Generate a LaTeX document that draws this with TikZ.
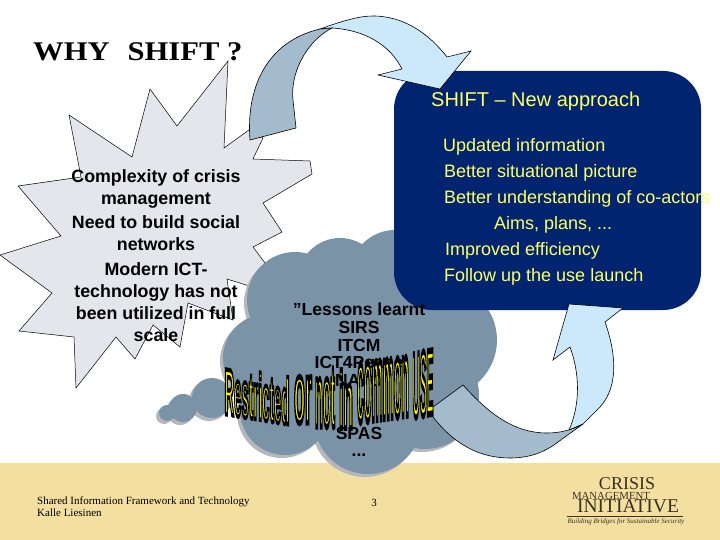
\documentclass[tikz,border=0pt]{standalone}
\usepackage{fontspec}
\setmainfont{Liberation Sans}
\newfontfamily\serifface{Liberation Serif}
\usetikzlibrary{positioning}
\definecolor{navybox}{HTML}{00246F}
\definecolor{boxtext}{HTML}{FFFF66}
\definecolor{cloudblue}{HTML}{7A93A7}
\definecolor{cloudshadow}{HTML}{B5B7BC}
\definecolor{footerband}{HTML}{F3DF9F}
\definecolor{stargrey}{HTML}{E4E6EB}
\definecolor{arrowdark}{HTML}{A3BBCC}
\definecolor{arrowlight}{HTML}{CCE9FC}
\definecolor{logoink}{HTML}{3A3020}
\tikzset{
  outlined/.style={draw=black, line width=0.6pt, line join=miter},
  boxline/.style={text=boxtext, anchor=west, inner sep=0pt, font=\fontsize{18}{20}\selectfont},
  logotext/.style={text=logoink, inner sep=0pt},
}
% filled, black-edged warped lettering
\newcommand{\warpword}[3]{\resizebox{#1pt}{#2pt}{\color{yellow}\special{pdf:code 0 0 0 RG 2 Tr 0.7 w}\textbf{#3}}}
\begin{document}
\begin{tikzpicture}[x=1pt,y=-1pt]
\useasboundingbox (0,0) rectangle (720,540);

% Footer band
\fill[footerband] (0,463) rectangle (720,540);

% Burst on the left
\draw[outlined, line width=0.5pt, fill=stargrey] (69,115) -- (132,157) -- (150,89) -- (177,126) -- (228,61) -- (224,148)
  -- (249,130) -- (263,138) -- (253,159) -- (310,161) -- (312,174) -- (263,203) -- (282,232) -- (253,247) -- (265,263)
  -- (262,290) -- (227,279) -- (233,320) -- (188,303) -- (180,347) -- (153,325) -- (135,359) -- (116,337) -- (76,388)
  -- (74,337) -- (19,331) -- (52,293) -- (0,255) -- (61,236) -- (18,186) -- (81,177) -- cycle;

% Cloud, shadow first
\foreach \cx/\cy/\cr in {295/300/48, 340/280/42, 395/275/45, 440/340/57, 425/395/54, 267/358/44, 285/410/45,
    368/420/54, 350/350/85, 212/398/20, 183/408/14, 167/413/8}
  \fill[cloudshadow] (\cx-3,\cy+3) circle (\cr pt);
\foreach \cx/\cy/\cr in {295/300/48, 340/280/42, 395/275/45, 440/340/57, 425/395/54, 267/358/44, 285/410/45,
    368/420/54, 350/350/85, 212/398/20, 183/408/14, 167/413/8}
  \fill[cloudblue] (\cx,\cy) circle (\cr pt);

% Blue box
\fill[navybox, rounded corners=38pt] (394,71) rectangle (701,310);

% Upper arrow
\draw[outlined, fill=arrowlight] (320,29) .. controls (345,20) and (360,16) .. (373,16)
  .. controls (405,16) and (430,35) .. (447,57) -- (471,51) -- (440,89) -- (378,75) -- (402,69)
  .. controls (390,45) and (365,30) .. (332,28) -- cycle;
\draw[outlined, fill=arrowdark] (250,140) .. controls (246,90) and (265,42) .. (320,29) -- (332,28)
  .. controls (305,42) and (290,75) .. (293,100) -- (296,128) -- cycle;

% Lower arrow
\draw[outlined, fill=arrowlight] (569,430) .. controls (578,410) and (582,380) .. (570,347) -- (553,360) -- (569,304)
  -- (623,308) -- (605,322) .. controls (615,350) and (620,385) .. (600,407) -- (583,424) -- cycle;
\draw[outlined, fill=arrowdark] (463,385) .. controls (490,415) and (515,433) .. (547,433)
  .. controls (560,433) and (572,430) .. (583,424) -- (558,442) .. controls (545,452) and (530,458) .. (510,458)
  .. controls (480,458) and (455,445) .. (433,417) -- (433,407) -- cycle;

% Title
\node[font=\serifface\bfseries\fontsize{27}{30}\selectfont, anchor=base west, inner sep=0pt] (whyshift) at (33,61)
  {\scalebox{1.134}[1]{WHY\, \,SHIFT ?}};

% Burst text
\node[align=center, inner sep=0pt, font=\bfseries\fontsize{17.8}{22}\selectfont] (burstlist) at (156,256)
  {Complexity of crisis\\management\\[2pt]Need to build social\\networks\\[3pt]Modern ICT-\\technology has not\\been utilized in full\\scale};

% Box text
\node[boxline, font=\fontsize{20}{22}\selectfont] (boxhead) at (431,101) {SHIFT -- New approach};
\node[boxline] (boxupdated) at (443,147) {Updated information};
\node[boxline] (boxpicture) at (444,173) {Better situational picture};
\node[boxline] (boxactors) at (444,199) {Better understanding of co-actors};
\node[boxline] (boxaims) at (494,225) {Aims, plans, ...};
\node[boxline] (boxefficiency) at (445,251) {Improved efficiency};
\node[boxline] (boxfollow) at (444,277) {Follow up the use launch};

% Cloud text
\node[align=center, inner sep=0pt, anchor=north, font=\bfseries\fontsize{17.5}{17.6}\selectfont] (cloudlist) at (359,303)
  {''Lessons learnt\\SIRS\\ITCM\\ICT4Peace\\NATO\\~\\~\\SPAS\\...};

% Warped lettering
\foreach \wname/\wx/\wy/\ww/\wh/\ws/\wtext in {warpa/257/396/65/47/-0.16/Restricted, warpb/303/400/18/46/-0.02/or,
    warpc/325/398/20/58/0.00/not, warpd/346/399/14/58/0.00/in, warpe/383/390/52/58/0.14/common, warpf/423/384/21/64/0.22/USE}
  \node[inner sep=0pt, transform shape, yslant=\ws] (\wname) at (\wx,\wy) {\warpword{\ww}{\wh}{\wtext}};

% Footer text
\node[font=\serifface\fontsize{11}{11.6}\selectfont, align=left, anchor=north west, inner sep=0pt] (footnote) at (37,497)
  {Shared Information Framework and Technology\\Kalle Liesinen};
\node[font=\serifface\fontsize{11}{12}\selectfont, inner sep=0pt] (pagenumber) at (374,503) {3};

% Logo
\node[logotext, font=\serifface\fontsize{18}{18}\selectfont] (logocrisis) at (627,484) {CRISIS};
\node[logotext, font=\serifface\fontsize{10.8}{11}\selectfont] (logomanagement) at (611,496) {MANAGEMENT};
\node[logotext, font=\serifface\fontsize{19.5}{19.5}\selectfont] (logoinitiative) at (628,506) {INITIATIVE};
\coordinate (logoruleleft) at (567,516);
\coordinate (logoruleright) at (683,516);
\draw[logoink, line width=0.5pt] (logoruleleft) -- (logoruleright);
\node[logotext, font=\serifface\itshape\fontsize{7}{8}\selectfont] (logotag) at (626,522) {Building Bridges for Sustainable Security};
\end{tikzpicture}
\end{document}
